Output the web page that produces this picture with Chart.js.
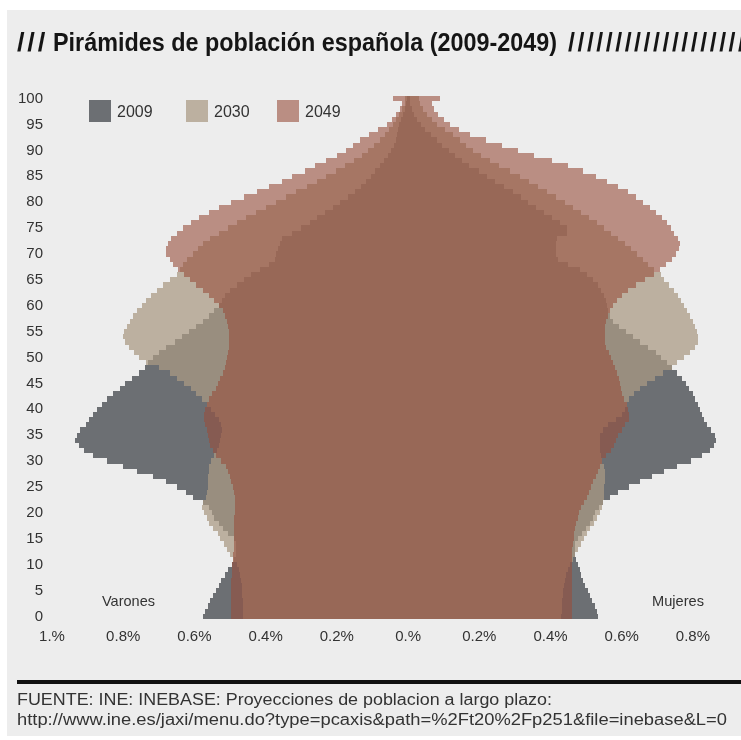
<!DOCTYPE html>
<html>
<head>
<meta charset="utf-8">
<script src="https://cdn.jsdelivr.net/npm/chart.js@4.4.0/dist/chart.umd.min.js"></script>
<style>
html,body{margin:0;padding:0;background:#fff;}
#wrap{position:relative;width:741px;height:740px;overflow:hidden;background:#fff;font-family:"Liberation Sans",Arial,sans-serif;}
#panel{position:absolute;left:7px;top:10px;width:734px;height:726px;background:#ededed;}
#c{position:absolute;left:0;top:0;}
.t{position:absolute;white-space:nowrap;transform-origin:0 0;}
.title{font-weight:bold;font-size:25px;line-height:25px;color:#151515;top:30px;}
.sl{letter-spacing:2.5px;}
.foot{font-size:16px;line-height:20px;color:#333;left:17px;}
.side{font-size:15px;line-height:15px;color:#333;top:593px;}
.lg{position:absolute;top:100px;width:22px;height:22px;}
.lgt{position:absolute;top:104px;font-size:16px;line-height:16px;color:#333;white-space:nowrap;}
#rule{position:absolute;left:17px;top:680px;width:724px;height:4px;background:#111;}
</style>
</head>
<body>
<div id="wrap">
  <div id="panel"></div>
  <canvas id="c" width="741" height="740"></canvas>
  <div class="t title sl" id="tsl1" style="left:17px">///</div>
  <div class="t title" id="tmain" style="left:53px">Pirámides de población española (2009-2049)</div>
  <div class="t title sl" style="left:568px">/////////////////////</div>
  <div id="legend"></div>
  <div class="t side" id="varones" style="left:102px">Varones</div>
  <div class="t side" id="mujeres" style="left:652px">Mujeres</div>
  <div id="rule"></div>
  <div class="t foot" id="f1" style="top:690px">FUENTE: INE: INEBASE: Proyecciones de poblacion a largo plazo:</div>
  <div class="t foot" id="f2" style="top:710px">http://www.ine.es/jaxi/menu.do?type=pcaxis&amp;path=%2Ft20%2Fp251&amp;file=inebase&amp;L=0</div>
</div>
<script>
// ---- data (percent of total population, by single year of age 0..100) ----
const ages = Array.from({length: 101}, (_, i) => i);
const years = ['2009', '2030', '2049'];

const males2009 = [
0.575,0.570,0.562,0.556,0.548,0.540,0.532,0.524,0.514,0.505,
0.495,0.488,0.484,0.482,0.484,0.490,0.505,0.520,0.532,0.545,
0.552,0.560,0.575,0.605,0.625,0.650,0.680,0.715,0.760,0.800,
0.845,0.885,0.910,0.925,0.935,0.930,0.920,0.905,0.895,0.885,
0.875,0.860,0.845,0.830,0.810,0.795,0.775,0.755,0.740,0.730,
0.715,0.700,0.680,0.655,0.635,0.615,0.595,0.575,0.560,0.545,
0.530,0.522,0.514,0.500,0.480,0.462,0.440,0.415,0.390,0.375,
0.370,0.365,0.360,0.355,0.325,0.300,0.275,0.255,0.232,0.210,
0.190,0.168,0.148,0.132,0.118,0.105,0.092,0.080,0.067,0.056,
0.047,0.040,0.035,0.031,0.028,0.025,0.020,0.015,0.010,0.006,0.004];

const males2030 = [
0.463,0.463,0.464,0.464,0.465,0.466,0.467,0.469,0.471,0.474,
0.480,0.492,0.500,0.508,0.518,0.527,0.535,0.548,0.560,0.566,
0.574,0.580,0.575,0.568,0.565,0.563,0.562,0.561,0.560,0.558,
0.553,0.545,0.538,0.532,0.528,0.524,0.522,0.525,0.532,0.542,
0.553,0.565,0.580,0.595,0.610,0.630,0.650,0.670,0.700,0.735,
0.755,0.770,0.785,0.795,0.800,0.798,0.790,0.782,0.772,0.760,
0.748,0.735,0.722,0.705,0.688,0.668,0.650,0.640,0.632,0.622,
0.605,0.590,0.575,0.555,0.530,0.505,0.480,0.455,0.428,0.400,
0.372,0.343,0.315,0.285,0.256,0.230,0.203,0.178,0.152,0.130,
0.112,0.095,0.080,0.066,0.054,0.043,0.034,0.025,0.017,0.010,0.008];

const males2049 = [
0.497,0.497,0.497,0.497,0.497,0.496,0.496,0.496,0.495,0.495,
0.494,0.493,0.491,0.490,0.489,0.488,0.488,0.488,0.488,0.488,
0.487,0.486,0.486,0.487,0.489,0.492,0.496,0.500,0.505,0.512,
0.525,0.540,0.548,0.555,0.560,0.563,0.566,0.570,0.574,0.573,
0.570,0.565,0.558,0.550,0.540,0.533,0.527,0.520,0.515,0.511,
0.508,0.505,0.503,0.502,0.502,0.503,0.505,0.508,0.513,0.520,
0.530,0.545,0.560,0.575,0.595,0.612,0.630,0.645,0.660,0.670,
0.680,0.680,0.675,0.665,0.650,0.632,0.610,0.587,0.560,0.530,
0.497,0.460,0.425,0.390,0.355,0.325,0.290,0.260,0.230,0.200,
0.175,0.155,0.135,0.110,0.085,0.060,0.045,0.033,0.024,0.018,0.042];

const females2009 = [
0.534,0.530,0.524,0.517,0.511,0.504,0.497,0.490,0.486,0.483,
0.478,0.473,0.470,0.468,0.470,0.476,0.488,0.500,0.510,0.518,
0.525,0.535,0.548,0.567,0.590,0.620,0.652,0.685,0.720,0.755,
0.795,0.825,0.848,0.860,0.864,0.862,0.852,0.840,0.832,0.826,
0.820,0.814,0.807,0.800,0.790,0.780,0.770,0.755,0.742,0.728,
0.710,0.695,0.673,0.652,0.633,0.613,0.592,0.575,0.566,0.562,
0.560,0.556,0.551,0.543,0.532,0.520,0.502,0.483,0.450,0.420,
0.416,0.415,0.415,0.418,0.445,0.446,0.427,0.405,0.383,0.360,
0.338,0.316,0.295,0.270,0.245,0.222,0.198,0.172,0.152,0.132,
0.114,0.096,0.080,0.064,0.048,0.035,0.025,0.017,0.010,0.006,0.005];

const females2030 = [
0.430,0.431,0.432,0.433,0.434,0.435,0.437,0.440,0.444,0.448,
0.455,0.463,0.470,0.478,0.487,0.495,0.503,0.512,0.521,0.530,
0.538,0.546,0.548,0.549,0.550,0.551,0.552,0.553,0.552,0.550,
0.546,0.542,0.540,0.538,0.538,0.540,0.548,0.562,0.585,0.600,
0.608,0.614,0.620,0.635,0.652,0.670,0.693,0.717,0.740,0.755,
0.775,0.792,0.805,0.813,0.815,0.811,0.806,0.799,0.791,0.783,
0.775,0.767,0.759,0.747,0.733,0.720,0.710,0.690,0.675,0.660,
0.642,0.625,0.608,0.590,0.570,0.550,0.530,0.508,0.486,0.464,
0.440,0.415,0.390,0.365,0.340,0.315,0.285,0.255,0.230,0.205,
0.183,0.163,0.146,0.125,0.103,0.080,0.066,0.052,0.042,0.034,0.030];

const females2049 = [
0.460,0.460,0.460,0.460,0.460,0.460,0.460,0.460,0.460,0.460,
0.460,0.460,0.460,0.461,0.463,0.465,0.467,0.470,0.473,0.476,
0.480,0.486,0.494,0.502,0.508,0.514,0.520,0.527,0.533,0.540,
0.545,0.557,0.570,0.578,0.585,0.590,0.600,0.610,0.620,0.620,
0.617,0.614,0.607,0.600,0.597,0.594,0.591,0.587,0.582,0.576,
0.570,0.563,0.557,0.553,0.552,0.552,0.553,0.556,0.561,0.567,
0.576,0.586,0.602,0.618,0.640,0.665,0.690,0.708,0.725,0.740,
0.752,0.762,0.764,0.758,0.748,0.738,0.727,0.713,0.697,0.680,
0.660,0.640,0.617,0.590,0.560,0.528,0.492,0.450,0.405,0.355,
0.310,0.265,0.220,0.175,0.142,0.118,0.100,0.085,0.072,0.067,0.090];

const xTickValues = [-1, -0.8, -0.6, -0.4, -0.2, 0, 0.2, 0.4, 0.6, 0.8];
const xTickLabels = ['1.%', '0.8%', '0.6%', '0.4%', '0.2%', '0.%', '0.2%', '0.4%', '0.6%', '0.8%'];

// ---- styles ----
const males = [males2009, males2030, males2049];
const females = [females2009, females2030, females2049];
const colors = ['rgb(108,111,115)', 'rgba(170,153,131,0.73)', 'rgba(152,78,60,0.6)'];
const legendLefts = [89, 186, 277];
const FONT = '"Liberation Sans", Arial, sans-serif';
const TICK = '#333';

const snap = {
  id: 'snap',
  afterDatasetsUpdate(chart) {
    chart.data.datasets.forEach((d, i) => {
      chart.getDatasetMeta(i).data.forEach(el => {
        const t = Math.round(el.y - el.height / 2), b = Math.round(el.y + el.height / 2);
        el.y = (t + b) / 2; el.height = b - t;
        el.x = Math.round(el.x); el.base = Math.round(el.base);
      });
    });
  }
};

const chart = new Chart(document.getElementById('c'), {
  type: 'bar',
  data: {
    labels: ages.map(String),
    datasets: years.map((y, k) => ({
      label: y,
      data: ages.map((a, i) => [-males[k][i], females[k][i]]),
      backgroundColor: colors[k],
      borderWidth: 0,
      barPercentage: 1,
      categoryPercentage: 1,
      grouped: false,
      inflateAmount: 0,
      order: 3 - k
    }))
  },
  options: {
    indexAxis: 'y',
    responsive: false,
    animation: false,
    events: [],
    layout: { padding: { top: 96, bottom: 91, left: 0, right: 0 } },
    plugins: { legend: { display: false }, tooltip: { enabled: false } },
    scales: {
      x: {
        type: 'linear', min: -1, max: 0.935,
        grid: { display: false, drawTicks: false },
        border: { display: false },
        ticks: {
          stepSize: 0.2, includeBounds: false, autoSkip: false, maxRotation: 0,
          padding: 9, color: TICK, font: { family: FONT, size: 15 },
          callback: (v) => {
            const idx = xTickValues.findIndex(t => Math.abs(t - v) < 1e-6);
            return idx >= 0 ? xTickLabels[idx] : '';
          }
        },
        afterFit: (s) => { s.height = 30; }
      },
      y: {
        type: 'category', reverse: true,
        grid: { display: false, drawTicks: false },
        border: { display: false },
        ticks: {
          autoSkip: false, padding: 9, color: TICK, font: { family: FONT, size: 15 },
          callback: (v, i) => (ages[i] % 5 === 0 ? String(ages[i]) : '')
        },
        afterFit: (s) => { s.width = 52; }
      }
    }
  },
  plugins: [snap]
});

// legend built from the datasets
const lg = document.getElementById('legend');
chart.data.datasets.forEach((d, k) => {
  const sw = document.createElement('div');
  sw.className = 'lg'; sw.style.left = legendLefts[k] + 'px'; sw.style.background = d.backgroundColor;
  const tx = document.createElement('div');
  tx.className = 'lgt'; tx.style.left = (legendLefts[k] + 28) + 'px'; tx.textContent = d.label;
  lg.appendChild(sw); lg.appendChild(tx);
});

function fit(id, w) {
  const el = document.getElementById(id);
  el.style.transform = 'none';
  const n = el.getBoundingClientRect().width;
  if (n > 0) el.style.transform = 'scaleX(' + (w / n) + ')';
}
function fitAll() {
  fit('tmain', 504); fit('tsl1', 31); fit('f1', 535); fit('f2', 710); fit('varones', 53); fit('mujeres', 52);
}
fitAll();
if (document.fonts && document.fonts.ready) document.fonts.ready.then(fitAll);
</script>
</body>
</html>
